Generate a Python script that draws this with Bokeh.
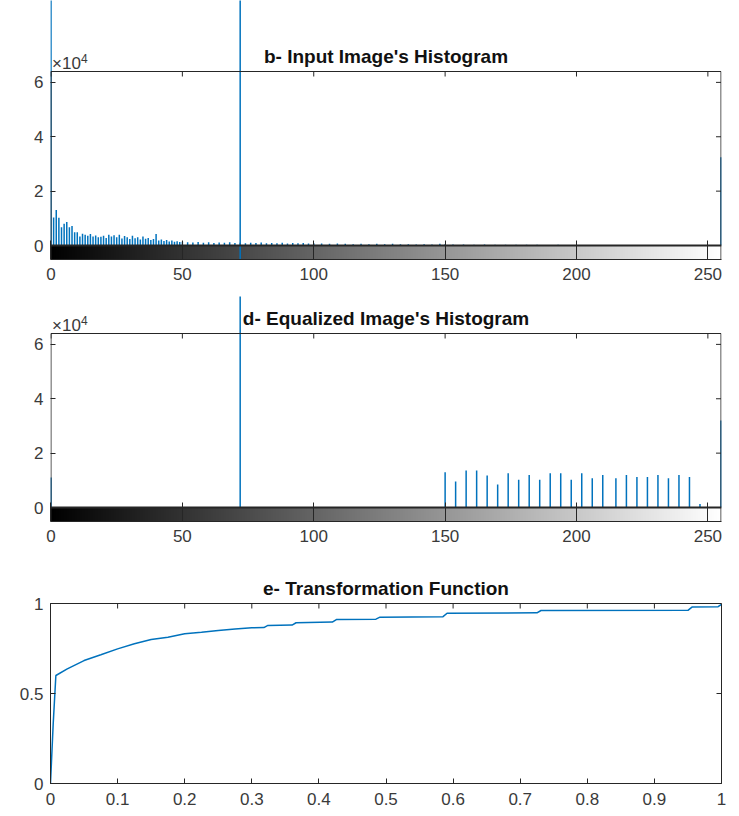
import numpy as np
from bokeh.plotting import figure
from bokeh.models import (Range1d, FixedTicker, Label, Span, ColumnDataSource,
                          LinearColorMapper)
from bokeh.layouts import column
from bokeh.palettes import Greys256
from bokeh.embed import file_html
from bokeh.resources import INLINE

# ---------------- data ----------------
# b- input image histogram: gray level -> pixel count
in_levels = list(range(0, 51)) + [52, 54, 56, 58, 60, 62, 64, 66, 68, 70, 72, 74, 76, 78, 80,
                                  82, 84, 86, 88, 90, 92, 94, 96, 98, 100,
                                  103, 106, 109, 112, 115, 118, 121, 124, 127, 130, 133, 136,
                                  139, 142, 145, 148, 150,
                                  153, 157, 161, 165, 169, 173, 177, 181, 185, 189, 193, 197,
                                  201, 205, 209, 213, 217, 221, 255]
in_counts = [200000, 10300, 13100, 10200, 6700, 8000, 8600, 6700, 7200, 4900,
             4900, 3300, 4300, 4000, 3600, 4200, 3300, 3700, 3000, 3200,
             3600, 2800, 4000, 3300, 3800, 3000, 4000, 2600, 3500, 3000,
             2400, 3600, 2700, 3000, 2200, 3300, 2500, 2800, 2000, 2400,
             4200, 1800, 2200, 1700, 2000, 1500, 1800, 1400, 1600, 1300,
             1400,
             1200, 1100, 1300, 1000, 1200, 900, 1100, 1000, 1200, 900, 1000, 800, 1000, 900, 1100,
             800, 900, 800, 1000, 700, 900, 800, 900, 700, 800,
             700, 600, 700, 600, 500, 600, 500, 600, 500, 600, 500, 500,
             400, 500, 400, 600, 500,
             400, 400, 300, 400, 300, 300, 300, 300, 300, 200, 300, 200,
             200, 200, 200, 200, 200, 200, 32500]

# d- equalized image histogram
eq_levels = [0, 72, 150, 154, 158, 162, 166, 170, 174, 178, 182, 186, 190, 194,
             198, 202, 206, 210, 215, 219, 223, 227, 231, 235, 239, 243, 247, 255]
eq_counts = [11000, 200000, 13000, 9600, 13600, 13600, 11800, 8500, 12600, 10200,
             12000, 10200, 12600, 12600, 10200, 12600, 10800, 12000, 10800, 12000,
             11200, 11200, 12000, 10800, 12000, 11200, 1300, 32000]

# e- transformation function (normalised input level -> output level)
tf_r = [0, 0.004, 0.008, 0.025, 0.05, 0.075, 0.1, 0.125, 0.15, 0.175, 0.2, 0.225,
        0.25, 0.275, 0.3, 0.318, 0.324, 0.36, 0.366, 0.42, 0.426, 0.485, 0.491,
        0.585, 0.591, 0.725, 0.731, 0.95, 0.956, 0.995, 1.0]
tf_v = [0, 0.33, 0.60, 0.637, 0.683, 0.715, 0.748, 0.776, 0.80, 0.813, 0.832, 0.840,
        0.850, 0.859, 0.865, 0.866, 0.878, 0.880, 0.893, 0.897, 0.911, 0.913, 0.924,
        0.927, 0.946, 0.948, 0.961, 0.962, 0.980, 0.982, 0.995]

hist_ticks = [0, 50, 100, 150, 200, 250]
count_ticks = [0, 20000, 40000, 60000]
count_labels = ["0", "2", "4", "6"]
tf_x_ticks = [0, 0.1, 0.2, 0.3, 0.4, 0.5, 0.6, 0.7, 0.8, 0.9, 1]
tf_x_labels = ["0", "0.1", "0.2", "0.3", "0.4", "0.5", "0.6", "0.7", "0.8", "0.9", "1"]
tf_y_ticks = [0, 0.5, 1]
tf_y_labels = ["0", "0.5", "1"]

# ---------------- style / geometry ----------------
BLUE = "#0072BD"
AX = "#262626"
LAB = "#3a3a3a"
FONT = "Liberation Sans"
TICKFS = "17px"
TITLEFS = "19px"
W = 731
LEFT, RIGHT = 50, 10
AX_W = W - LEFT - RIGHT      # frame width in px
AX_H = 174                   # histogram box height in px
STRIP_H = 14                 # gray strip height in px
YMAX = 64000
LMAX = 255
TICK = 5
BIG = 1e8


def style_axis(ax, ticks, labels, tick_in=TICK, standoff=7, line=True):
    ax.ticker = FixedTicker(ticks=ticks)
    ax.major_tick_in = tick_in
    ax.major_tick_out = 0
    ax.minor_tick_line_color = None
    ax.axis_line_color = AX if line else None
    ax.major_tick_line_color = AX
    ax.major_tick_line_width = 1
    ax.major_label_standoff = standoff
    ax.major_label_text_font = FONT
    ax.major_label_text_color = LAB
    ax.major_label_text_font_size = TICKFS
    ax.major_label_overrides = dict(zip(ticks, labels))


def hist_panel(title, levels, counts, head, bottom, crossing=None):
    uy = YMAX / AX_H                     # counts per px
    pad = 0.5 * LMAX / AX_W              # half a pixel, so the box edge stays visible
    height = head + AX_H + STRIP_H + bottom
    p = figure(width=W, height=height,
               x_range=Range1d(-pad, LMAX + pad),
               y_range=Range1d(-STRIP_H * uy, YMAX + head * uy),
               output_backend="svg", toolbar_location=None,
               min_border_left=LEFT, min_border_right=RIGHT,
               min_border_top=0, min_border_bottom=bottom)
    p.xgrid.visible = False
    p.ygrid.visible = False
    p.outline_line_color = None
    p.title.text = ""
    strip_h = STRIP_H * uy
    # gray level colour strip
    strip = np.arange(256, dtype=float).reshape(1, 256)
    cmap = LinearColorMapper(palette=Greys256, low=0, high=255)
    p.image(image=[strip], x=0, y=-strip_h, dw=LMAX, dh=strip_h, color_mapper=cmap,
            level="image")
    # histogram stems (tall ones run past the box, as in the original)
    src = ColumnDataSource(dict(x=levels, c=counts, z=[0] * len(levels)))
    p.segment(x0="x", y0="z", x1="x", y1="c", source=src, line_color=BLUE, line_width=1.5)
    if crossing:
        p.segment(x0=crossing, y0=[-BIG] * len(crossing), x1=crossing,
                  y1=[BIG] * len(crossing), line_color=BLUE, line_width=1.5)
    # axes box and strip
    p.quad(left=[0], right=[LMAX], bottom=[-strip_h], top=[YMAX],
           fill_color=None, line_color=AX, line_width=1)
    p.add_layout(Span(location=0, dimension="width", line_color=AX, line_width=2))
    # inward ticks on top and right edges
    n = len(hist_ticks)
    p.segment(x0=hist_ticks, y0=[YMAX] * n, x1=hist_ticks, y1=[YMAX - TICK * uy] * n,
              line_color=AX, line_width=1)
    m = len(count_ticks)
    ux = LMAX / AX_W
    p.segment(x0=[LMAX] * m, y0=count_ticks, x1=[LMAX - TICK * ux] * m, y1=count_ticks,
              line_color=AX, line_width=1)

    style_axis(p.xaxis[0], hist_ticks, [str(t) for t in hist_ticks],
               tick_in=STRIP_H + TICK, standoff=8)
    style_axis(p.yaxis[0], count_ticks, count_labels, standoff=7, line=False)

    p.add_layout(Label(x=LMAX / 2, y=YMAX, text=title, y_offset=15,
                       text_align="center", text_baseline="alphabetic",
                       text_font=FONT, text_font_style="bold", text_font_size=TITLEFS,
                       text_color="#111111"))
    p.add_layout(Label(x=0, y=YMAX, text="×10", x_offset=1, y_offset=8,
                       text_baseline="alphabetic", text_font=FONT, text_font_size="17px",
                       text_color=LAB))
    p.add_layout(Label(x=0, y=YMAX, text="4", x_offset=30, y_offset=13,
                       text_baseline="alphabetic", text_font=FONT, text_font_size="12px",
                       text_color=LAB))
    return p


eq_over = [l for l, c in zip(eq_levels, eq_counts) if c > YMAX]

p1 = hist_panel("b- Input Image's Histogram", in_levels, in_counts, 71, 37,
                crossing=eq_over)
p2 = hist_panel("d- Equalized Image's Histogram", eq_levels, eq_counts, 37, 39)

# ---------------- e- transformation function ----------------
TF_H = 180
p3 = figure(width=W, height=43 + TF_H + 31, x_range=Range1d(0, 1), y_range=Range1d(0, 1),
            output_backend="svg", toolbar_location=None,
            min_border_left=LEFT, min_border_right=RIGHT,
            min_border_top=43, min_border_bottom=31)
p3.xgrid.visible = False
p3.ygrid.visible = False
p3.outline_line_color = AX
p3.outline_line_width = 1
p3.title.text = "e- Transformation Function"
p3.title.align = "center"
p3.title.text_font = FONT
p3.title.text_font_style = "bold"
p3.title.text_font_size = TITLEFS
p3.title.text_color = "#111111"
p3.title.standoff = 10
p3.line(tf_r, tf_v, line_color=BLUE, line_width=1.5)
style_axis(p3.xaxis[0], tf_x_ticks, tf_x_labels, standoff=9)
style_axis(p3.yaxis[0], tf_y_ticks, tf_y_labels, standoff=7)
k = len(tf_x_ticks)
p3.segment(x0=tf_x_ticks, y0=[1] * k, x1=tf_x_ticks, y1=[1 - TICK / TF_H] * k,
           line_color=AX, line_width=1)
j = len(tf_y_ticks)
p3.segment(x0=[1] * j, y0=tf_y_ticks, x1=[1 - TICK / AX_W] * j, y1=tf_y_ticks,
           line_color=AX, line_width=1)

layout = column(p1, p2, p3, spacing=0)
open("out.html", "w").write(file_html(layout, INLINE))
